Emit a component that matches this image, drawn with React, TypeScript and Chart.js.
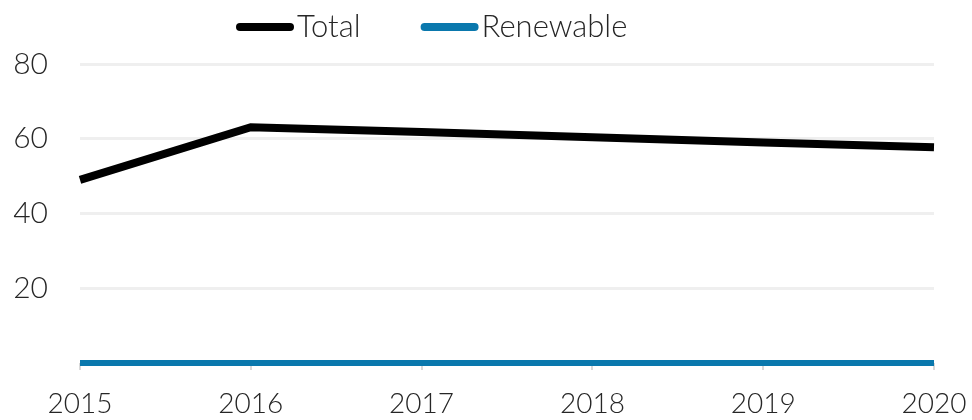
import React, { useEffect, useRef } from "react";
import { Chart, registerables } from "chart.js";

Chart.register(...registerables);

const years = ["2015", "2016", "2017", "2018", "2019", "2020"];
const totalValues = [49.0, 63.1, 61.8, 60.4, 59.0, 57.7];
const renewableValues = [0, 0, 0, 0, 0, 0];
const yTickValues = [20, 40, 60, 80];

const FONT = "Lato, 'Noto Sans', sans-serif";
const TEXT_COLOR = "#262626";

const customLegend = {
  id: "customLegend",
  afterDraw(chart: any) {
    const ctx = chart.ctx;
    ctx.save();
    ctx.font = `300 31px ${FONT}`;
    ctx.textBaseline = "middle";
    let x = 240;
    const y = 27;
    chart.data.datasets.forEach((ds: any) => {
      ctx.strokeStyle = ds.borderColor;
      ctx.lineWidth = 8;
      ctx.lineCap = "round";
      ctx.beginPath();
      ctx.moveTo(x, y);
      ctx.lineTo(x + 50, y);
      ctx.stroke();
      x += 57;
      ctx.fillStyle = TEXT_COLOR;
      ctx.fillText(ds.label, x, y);
      x += ctx.measureText(ds.label).width + 64;
    });
    ctx.restore();
  },
};

export default function App() {
  const ref = useRef<HTMLCanvasElement | null>(null);
  useEffect(() => {
    document.body.style.margin = "0";
    const chart = new Chart(ref.current!, {
      type: "line",
      data: {
        labels: years,
        datasets: [
          {
            label: "Total",
            data: totalValues,
            borderColor: "#000000",
            backgroundColor: "#000000",
            borderWidth: 8,
            pointRadius: 0,
            borderJoinStyle: "miter",
            tension: 0,
            clip: false as any,
          },
          {
            label: "Renewable",
            data: renewableValues,
            borderColor: "#0a78ad",
            backgroundColor: "#0a78ad",
            borderWidth: 6,
            pointRadius: 0,
            tension: 0,
            clip: false as any,
          },
        ],
      },
      options: {
        animation: false,
        responsive: false,
        maintainAspectRatio: false,
        layout: { padding: { left: 12, right: 38, top: 64, bottom: 0 } },
        plugins: {
          legend: { display: false },
          tooltip: { enabled: false },
        },
        scales: {
          x: {
            offset: false,
            afterFit: (axis: any) => {
              axis.paddingLeft = 0;
              axis.paddingRight = 0;
              axis.height = 57;
            },
            grid: {
              display: true,
              drawOnChartArea: false,
              drawTicks: true,
              tickLength: 7,
              color: "#d9d9d9",
              lineWidth: 2,
            },
            border: { display: false },
            ticks: {
              color: TEXT_COLOR,
              font: { family: FONT, size: 28, weight: 300 as any },
              padding: 17,
              maxRotation: 0,
            },
          },
          y: {
            min: 0,
            max: 80,
            afterFit: (axis: any) => {
              axis.width = 68;
            },
            afterBuildTicks: (axis: any) => {
              axis.ticks = [0, ...yTickValues].map((v) => ({ value: v }));
            },
            grid: {
              color: (c: any) => (c.tick && c.tick.value === 0 ? "rgba(0,0,0,0)" : "#efefef"),
              lineWidth: 3,
              drawTicks: false,
            },
            border: { display: false },
            ticks: {
              color: TEXT_COLOR,
              font: { family: FONT, size: 30, weight: 300 as any },
              padding: 32,
              callback: (v: any) => (v === 0 ? "" : String(v)),
            },
          },
        },
      },
      plugins: [customLegend],
    });
    return () => chart.destroy();
  }, []);
  return (
    <div style={{ width: 972, height: 420 }}>
      <canvas ref={ref} width={972} height={420} style={{ display: "block" }} />
    </div>
  );
}
